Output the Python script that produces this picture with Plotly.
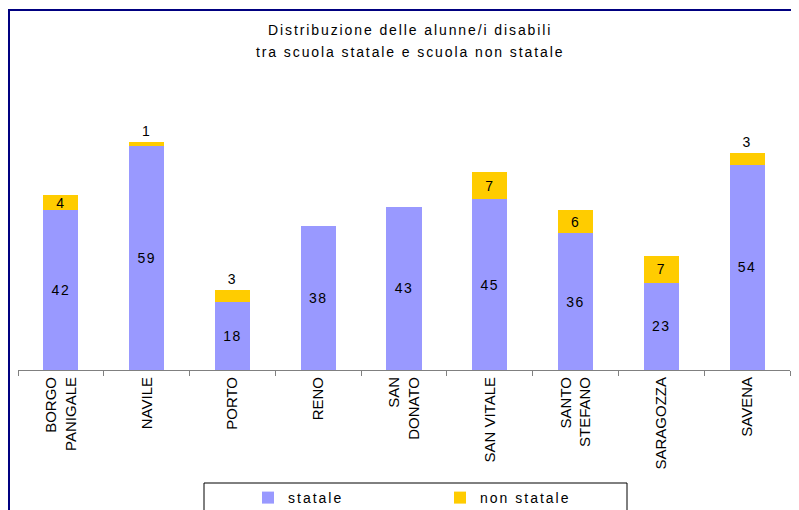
import plotly.graph_objects as go

categories = ["BORGO<br>PANIGALE", "NAVILE", "PORTO", "RENO", "SAN<br>DONATO",
              "SAN VITALE", "SANTO<br>STEFANO", "SARAGOZZA", "SAVENA"]
statale = [42, 59, 18, 38, 43, 45, 36, 23, 54]
non_statale = [4, 1, 3, 0, 0, 7, 6, 7, 3]
series_names = ["statale", "non statale"]

title_lines = ["Distribuzione delle alunne/i disabili",
               "tra scuola statale e scuola non statale"]

FONT = "Liberation Sans, Arial, sans-serif"
OFF = 8  # page body margin
W, H = 799 - OFF, 510 - OFF


def fx(p):  # reference screen px -> figure px
    return p - OFF


ML = fx(18)
MR = W - fx(790)
MT = fx(75)
MB = H - fx(370)
PX_PER_UNIT = 3.8
plot_h = H - MT - MB
plot_w = W - ML - MR
ymax = plot_h / PX_PER_UNIT


def px_x(p):
    return (fx(p) - ML) / plot_w


def px_y(p):
    return (H - MB - fx(p)) / plot_h


def spaced(s, sp=1.5):
    return f"<span style='letter-spacing:{sp}px'>{s}</span>"


ns_text = [spaced(str(v)) if v > 0 else "" for v in non_statale]
ns_pos = ["inside" if v >= 4 else "outside" for v in non_statale]
lbl_font = dict(family=FONT, size=14, color="#000000")

fig = go.Figure()
fig.add_trace(go.Bar(
    x=categories, y=statale, name=spaced(series_names[0], 2),
    marker=dict(color="#9999FF", line=dict(width=0)),
    text=[spaced(str(v)) for v in statale], textposition="inside",
    insidetextanchor="middle", constraintext="none", textangle=0,
    textfont=lbl_font, cliponaxis=False,
))
fig.add_trace(go.Bar(
    x=categories, y=non_statale, name=spaced(series_names[1], 2),
    marker=dict(color="#FFCC00", line=dict(width=0)),
    text=ns_text, textposition=ns_pos,
    insidetextanchor="middle", constraintext="none", textangle=0,
    textfont=lbl_font, outsidetextfont=lbl_font, insidetextfont=lbl_font,
    cliponaxis=False,
))

shapes = [
    dict(type="line", xref="paper", yref="paper",
         x0=px_x(8), x1=px_x(830), y0=px_y(10), y1=px_y(10),
         line=dict(color="#000080", width=2)),
    dict(type="line", xref="paper", yref="paper",
         x0=px_x(9), x1=px_x(9), y0=px_y(10), y1=px_y(540),
         line=dict(color="#000080", width=2)),
    dict(type="rect", xref="paper", yref="paper",
         x0=px_x(204), x1=px_x(627), y0=px_y(483), y1=px_y(560),
         line=dict(color="#000000", width=1), fillcolor="rgba(0,0,0,0)"),
]

annotations = [
    dict(text=spaced(title_lines[0], 1.9), xref="paper", yref="paper",
         x=px_x(410), y=px_y(30), xanchor="center", yanchor="middle",
         showarrow=False, font=dict(family=FONT, size=14, color="#000000")),
    dict(text=spaced(title_lines[1], 1.9), xref="paper", yref="paper",
         x=px_x(410), y=px_y(52), xanchor="center", yanchor="middle",
         showarrow=False, font=dict(family=FONT, size=14, color="#000000")),
]

fig.update_layout(
    width=W, height=H,
    margin=dict(l=ML, r=MR, t=MT, b=MB, autoexpand=False),
    paper_bgcolor="white", plot_bgcolor="white",
    barmode="stack", bargap=0.59,
    font=dict(family=FONT, size=14, color="#000000"),
    showlegend=True,
    legend=dict(orientation="h", x=px_x(248), xanchor="left",
                y=px_y(482), yanchor="top", yref="paper",
                entrywidth=147, entrywidthmode="pixels",
                bgcolor="rgba(0,0,0,0)", borderwidth=0,
                font=dict(family=FONT, size=14, color="#000000"),
                traceorder="normal"),
    shapes=shapes,
    annotations=annotations,
)
fig.update_xaxes(
    type="category", showline=True, linecolor="#808080", linewidth=1,
    ticks="outside", tickson="boundaries", ticklen=5, tickcolor="#808080",
    tickangle=-90, showgrid=False, zeroline=False,
    tickfont=dict(family=FONT, size=15, color="#000000"),
)
fig.update_yaxes(visible=False, range=[0, ymax], showgrid=False, zeroline=False)

fig.write_html("out.html")
